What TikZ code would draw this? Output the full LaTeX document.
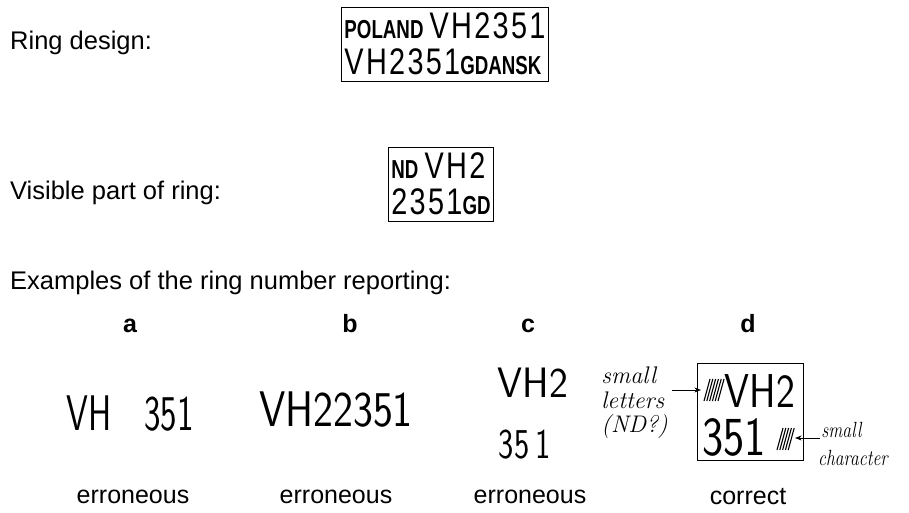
\documentclass[tikz,border=0pt]{standalone}
\usepackage{fontspec}
\usepackage{graphicx}
\usetikzlibrary{arrows.meta,positioning,calc}
\newfontfamily\arialfont{Liberation Sans}
\newfontfamily\ringfont{Liberation Sans}[LetterSpace=8]
\newcommand{\ringbig}[1]{\scalebox{.78}[1]{\ringfont\fontsize{37}{37}\selectfont #1}}
\newcommand{\ringsmall}[1]{\scalebox{.72}[1]{\arialfont\bfseries\fontsize{26}{26}\selectfont #1}}

\begin{document}
\begin{tikzpicture}[x=1pt, y=-1pt, >=Stealth,
  caption/.style={anchor=west, inner sep=0pt, font=\arialfont\fontsize{25.5}{25.5}\selectfont},
  ringbox/.style={draw, thin, align=left, inner xsep=3pt, inner ysep=6pt, font=\fontsize{37}{36}\selectfont},
  casename/.style={anchor=base, inner sep=0pt, font=\arialfont\bfseries\fontsize{25}{25}\selectfont},
  verdict/.style={inner sep=0pt, font=\arialfont\fontsize{25}{25}\selectfont},
  hand/.style={inner sep=0pt, font=\sffamily\fontsize{50}{50}\selectfont},
  note/.style={inner sep=0pt, align=left, font=\itshape\fontsize{24}{24.5}\selectfont},
  hatch/.style={line width=1.1pt}]
  \useasboundingbox (0,0) rectangle (909,512);

  % ring as designed and as seen
  \node[caption] (designlbl) at (10,43) {Ring design:};
  \node[ringbox] (design) at (445,44) {\ringsmall{POLAND}\,\ringbig{VH2351}\\\ringbig{VH2351}\ringsmall{GDANSK}};
  \node[caption] (visiblelbl) at (10,193) {Visible part of ring:};
  \node[ringbox] (visible) at (441,184) {\ringsmall{ND}\,\ringbig{VH2}\\\ringbig{2351}\ringsmall{GD}};

  % reporting examples
  \node[caption] (exampleslbl) at (10,283) {Examples of the ring number reporting:};
  \foreach \n/\x in {a/130,b/350,c/528,d/748}
    \node[casename] (case\n) at (\x,332) {\n};

  \node[hand, xscale=.7] (numa) at (130,414) {VH\hspace{47pt}351};
  \node[hand, xscale=.845] (numb) at (336,410) {VH22351};
  \node[hand, xscale=.8, yscale=.85] (numc1) at (533,383) {VH2};
  \node[hand, xscale=.65, yscale=.85] (numc2) at (525,445) {35\kern10pt1};

  % the correct report
  \node[draw, thick, minimum width=106pt, minimum height=97pt] (dbox) at (750,412) {};
  \node[hand, xscale=.8, yscale=.95] (numd1) at (760,391) {VH2};
  \node[hand, xscale=.9, yscale=1.1] (numd2) at (734,437) {351};
  \coordinate (hatchl) at (701,390);
  \coordinate (hatchr) at (795,438);
  \foreach \i in {0,...,5}
    \draw[hatch] ($(hatchl)+(3+\i*2.8,11)$) -- ++(6,-22);
  \foreach \i in {0,...,4}
    \draw[hatch] ($(hatchr)+(-18+\i*2.8,12)$) -- ++(6,-22);
  \node[note, anchor=east] (notel) at (668,403) {small\\letters\\(ND?)};
  \node[note, anchor=north west, xscale=.8, font=\itshape\fontsize{22}{28}\selectfont] (noter) at (818,422) {\hspace{4pt}small\\character};
  \draw[->, thick] ($(notel.east |- hatchl)+(4,0)$) -- (hatchl);
  \draw[->, thick] ($(noter.west |- hatchr)+(2,0)$) -- (hatchr);

  \foreach \x/\t [count=\i] in {133/erroneous,336/erroneous,530/erroneous,748/correct}
    \node[verdict] (verdict\i) at (\x,497) {\t};
\end{tikzpicture}
\end{document}
